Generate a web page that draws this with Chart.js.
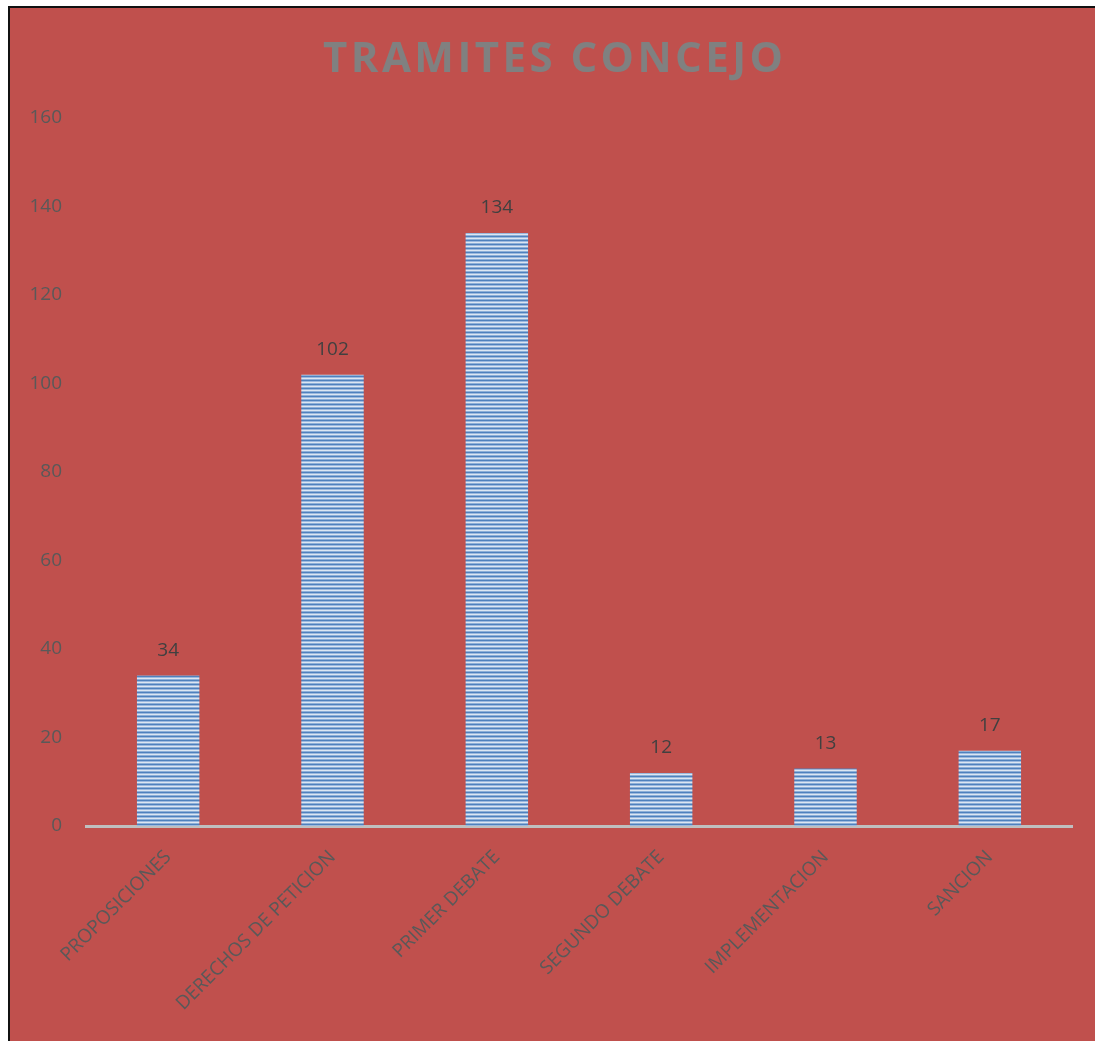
<!DOCTYPE html>
<html>
<head>
<meta charset="utf-8">
<script src="https://cdn.jsdelivr.net/npm/chart.js@4/dist/chart.umd.min.js"></script>
<style>
  html, body { margin: 0; padding: 0; background: #fff; }
  #wrap { width: 1095px; height: 1041px; }
</style>
</head>
<body>
<div id="wrap"><canvas id="c" width="1095" height="1041"></canvas></div>
<script>
var categories = ['PROPOSICIONES', 'DERECHOS DE PETICION', 'PRIMER DEBATE', 'SEGUNDO DEBATE', 'IMPLEMENTACION', 'SANCION'];
var values = [34, 102, 134, 12, 13, 17];
var yTicks = [0, 20, 40, 60, 80, 100, 120, 140, 160];
var titleText = 'TRAMITES CONCEJO';

// striped fill like the original bars
function stripes() {
    var t = document.createElement('canvas');
    t.width = 2; t.height = 4;
    var g = t.getContext('2d');
    var rows = ['#4F81BD', '#9CB9DF', '#DCE6F2', '#8EAFD8'];
    rows.forEach(function (c, i) { g.fillStyle = c; g.fillRect(0, i, 2, 1); });
    return g.createPattern(t, 'repeat');
}

var frame = {
    id: 'frame',
    beforeDraw: function (chart) {
        var ctx = chart.ctx;
        ctx.save();
        ctx.fillStyle = '#ffffff';
        ctx.fillRect(0, 0, chart.width, chart.height);
        ctx.fillStyle = '#C0504D';
        ctx.fillRect(9, 7, chart.width, chart.height);
        ctx.strokeStyle = '#111';
        ctx.lineWidth = 2;
        ctx.strokeRect(9, 7, chart.width + 10, chart.height + 10);

        // title with letter spacing
        ctx.font = 'bold 42px "Open Sans"';
        ctx.fillStyle = '#808080';
        ctx.textBaseline = 'alphabetic';
        var w = ctx.measureText(titleText).width;
        var sp = (460 - w) / (titleText.length - 1);
        var x = 553 - 230;
        for (var i = 0; i < titleText.length; i++) {
            ctx.fillText(titleText[i], x, 72);
            x += ctx.measureText(titleText[i]).width + sp;
        }
        ctx.restore();
    }
};

var valueLabels = {
    id: 'valueLabels',
    afterDatasetsDraw: function (chart) {
        var ctx = chart.ctx;
        var meta = chart.getDatasetMeta(0);
        ctx.save();
        ctx.font = '19px "Open Sans"';
        ctx.fillStyle = '#404040';
        ctx.textAlign = 'center';
        ctx.textBaseline = 'middle';
        meta.data.forEach(function (bar, i) {
            ctx.fillText(values[i], bar.x, bar.y - 25);
        });
        ctx.restore();
    }
};

new Chart(document.getElementById('c'), {
    type: 'bar',
    data: {
        labels: categories,
        datasets: [{
            data: values,
            backgroundColor: stripes(),
            borderWidth: 0,
            barPercentage: 0.38,
            categoryPercentage: 1
        }]
    },
    options: {
        responsive: false,
        animation: false,
        layout: { padding: { top: 118, right: 23, left: 0, bottom: 0 } },
        plugins: {
            legend: { display: false },
            tooltip: { enabled: false }
        },
        scales: {
            x: {
                grid: { display: false },
                border: { display: true, color: '#BFBFBF', width: 3 },
                ticks: {
                    color: '#595959',
                    font: { family: 'Open Sans', size: 19 },
                    minRotation: 45,
                    maxRotation: 45,
                    padding: 12
                },
                afterFit: function (s) { s.height = 215; s.paddingLeft = 0; s.paddingRight = 0; }
            },
            y: {
                min: 0,
                max: 160,
                afterBuildTicks: function (s) { s.ticks = yTicks.map(function (v) { return { value: v }; }); },
                grid: { display: false, drawTicks: false },
                border: { display: false },
                ticks: {
                    color: '#595959',
                    font: { family: 'Open Sans', size: 19 },
                    padding: 24
                },
                afterFit: function (s) { s.width = 86; }
            }
        }
    },
    plugins: [frame, valueLabels]
});
</script>
</body>
</html>
